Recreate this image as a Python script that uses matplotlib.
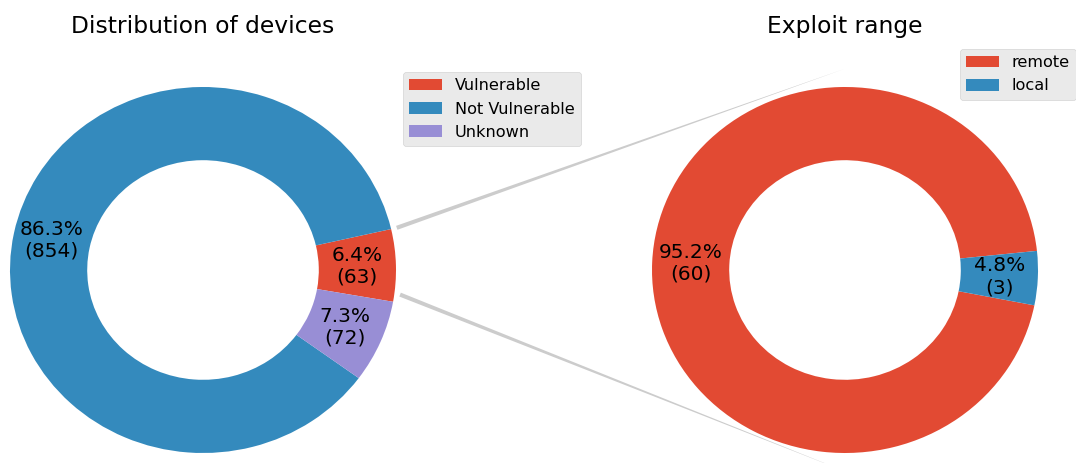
import numpy as np
import matplotlib
matplotlib.use("Agg")
import matplotlib.pyplot as plt
from matplotlib.patches import ConnectionPatch

plt.style.use('ggplot')

# data
device_labels = ['Vulnerable', 'Not Vulnerable', 'Unknown']
device_counts = [63, 854, 72]
range_labels = ['remote', 'local']
range_counts = [60, 3]

red, blue, purple = '#E24A33', '#348ABD', '#988ED5'


def make_autopct(values):
    total = sum(values)
    def fmt(pct):
        return '{:.1f}%\n({:d})'.format(pct, int(round(pct * total / 100.0)))
    return fmt


fig = plt.figure(figsize=(10.76, 4.63), dpi=100)
ax1 = fig.add_axes([10 / 1076, 10 / 463, 386 / 1076, 366 / 463])
ax2 = fig.add_axes([652 / 1076, 10 / 463, 386 / 1076, 366 / 463])

wedges1, texts1, autotexts1 = ax1.pie(
    device_counts, colors=[red, blue, purple], startangle=-10,
    autopct=make_autopct(device_counts), pctdistance=0.8,
    wedgeprops=dict(width=0.4), textprops=dict(fontsize=14.5, color='black'))
ax1.set_aspect('auto')
ax1.set_xlim(-1, 1)
ax1.set_ylim(-1, 1)
ax1.set_title('Distribution of devices', fontsize=16.8, pad=39, color='black')
ax1.legend(wedges1, device_labels, loc='upper left', fontsize=11.6,
           bbox_to_anchor=(403 / 1076, 1 - 72 / 463), bbox_transform=fig.transFigure,
           borderaxespad=0)

wedges2, texts2, autotexts2 = ax2.pie(
    range_counts, colors=[red, blue], startangle=6,
    autopct=make_autopct(range_counts), pctdistance=0.8,
    wedgeprops=dict(width=0.4), textprops=dict(fontsize=14.5, color='black'))
ax2.set_aspect('auto')
ax2.set_xlim(-1, 1)
ax2.set_ylim(-1, 1)
ax2.set_title('Exploit range', fontsize=16.8, pad=39, color='black')
ax2.legend(wedges2, range_labels, loc='upper left', fontsize=11.6,
           bbox_to_anchor=(960 / 1076, 1 - 49 / 463), bbox_transform=fig.transFigure,
           borderaxespad=0)

# lines from the vulnerable wedge to the second pie
vul = wedges1[0]
for theta, yb in [(vul.theta2, 1.1), (vul.theta1 + 2.5, -1.1)]:
    xa = 1.03 * np.cos(np.deg2rad(theta))
    ya = 1.03 * np.sin(np.deg2rad(theta))
    con = ConnectionPatch(xyA=(xa, ya), coordsA=ax1.transData,
                          xyB=(0, yb), coordsB=ax2.transData,
                          arrowstyle='wedge,tail_width=0.3', mutation_scale=10,
                          facecolor='0.8', edgecolor='none', linewidth=0)
    fig.add_artist(con)

fig.savefig('out.png', dpi=100)
